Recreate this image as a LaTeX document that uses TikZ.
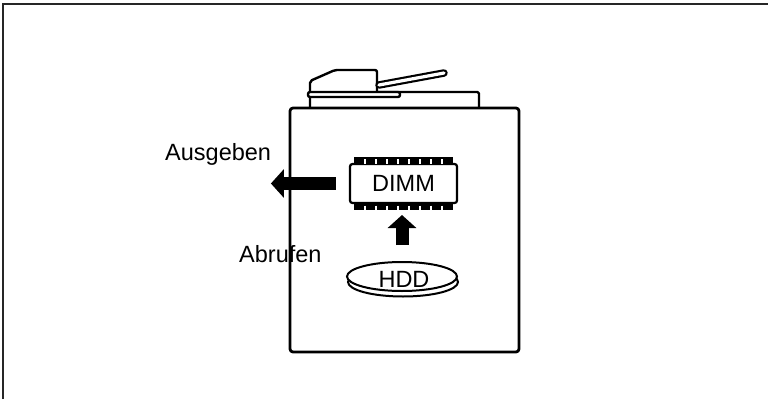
\documentclass[tikz,border=0pt]{standalone}
\usepackage{fontspec}
\setmainfont{Liberation Sans}
\usetikzlibrary{arrows.meta,shapes.geometric}
\begin{document}
\begin{tikzpicture}[x=1pt,y=-1pt,
  outline/.style={line width=2.8pt,line join=round},
  label/.style={font=\fontsize{23.5}{26}\selectfont,inner sep=0pt},
  blockarrow/.style={line width=13pt,-{Triangle[width=28pt,length=13pt]}},
  chip/.style={draw,line width=2.2pt,rounded corners=2.5pt,fill=white,
    minimum width=107pt,minimum height=39pt,inner sep=0pt,
    font=\fontsize{23.5}{26}\selectfont}]
\useasboundingbox (0,0) rectangle (768,399);
% outer frame: top and left edges
\draw[line width=1.8pt,black!85] (3,399) -- (3,4) -- (768,4);

% scanner on top of the machine
\draw[outline,line width=2.4pt,fill=white,rounded corners=1.5pt]
  (310,108) -- (310,92) -- (479,92) -- (479,108);
\draw[outline,line width=2.4pt,fill=white,rounded corners=2pt]
  (310,93) -- (310,81) -- (335,70) -- (377,70) -- (377,93);
\draw[line width=7.5pt,line cap=round] (379,85) -- (444,73);
\draw[line width=3.2pt,line cap=round,white] (379,85) -- (444,73);
\draw[line width=2.4pt,fill=white,rounded corners=2pt]
  (308,92) rectangle (400,97);

% machine body
\draw[outline,rounded corners=3pt,fill=white] (290,108) rectangle (519,352);

% memory module with pin rows
\node[chip] (dimm) at (403.5,183.5) {DIMM};
\foreach \yy in {157,203.5} {
  \fill (354,\yy) rectangle (453,\yy+6.5);
  \foreach \k in {1,...,8}
    \draw[white,line width=1.6pt] (354+11*\k,\yy+2.2) -- (354+11*\k,\yy+6.5);
}

% hard disk drawn as a flat disc
\draw[line width=2pt,fill=white] (403,282) ellipse [x radius=55pt,y radius=14.5pt];
\draw[line width=2pt,fill=white] (402,276.5) ellipse [x radius=55pt,y radius=14.5pt];
\node[label] (hdd) at (404,279) {HDD};
\coordinate (hddtop) at (402,262);

% data flow arrows
\draw[blockarrow] ([xshift=-13pt]dimm.west) -- ([xshift=-78pt]dimm.west);
\draw[blockarrow] ([yshift=17pt]hddtop) -- (402,215);

% captions
\node[label,anchor=base west] (out) at (165,160) {Ausgeben};
\node[label,anchor=base west] (fetch) at (239,262) {Abrufen};
\end{tikzpicture}
\end{document}
